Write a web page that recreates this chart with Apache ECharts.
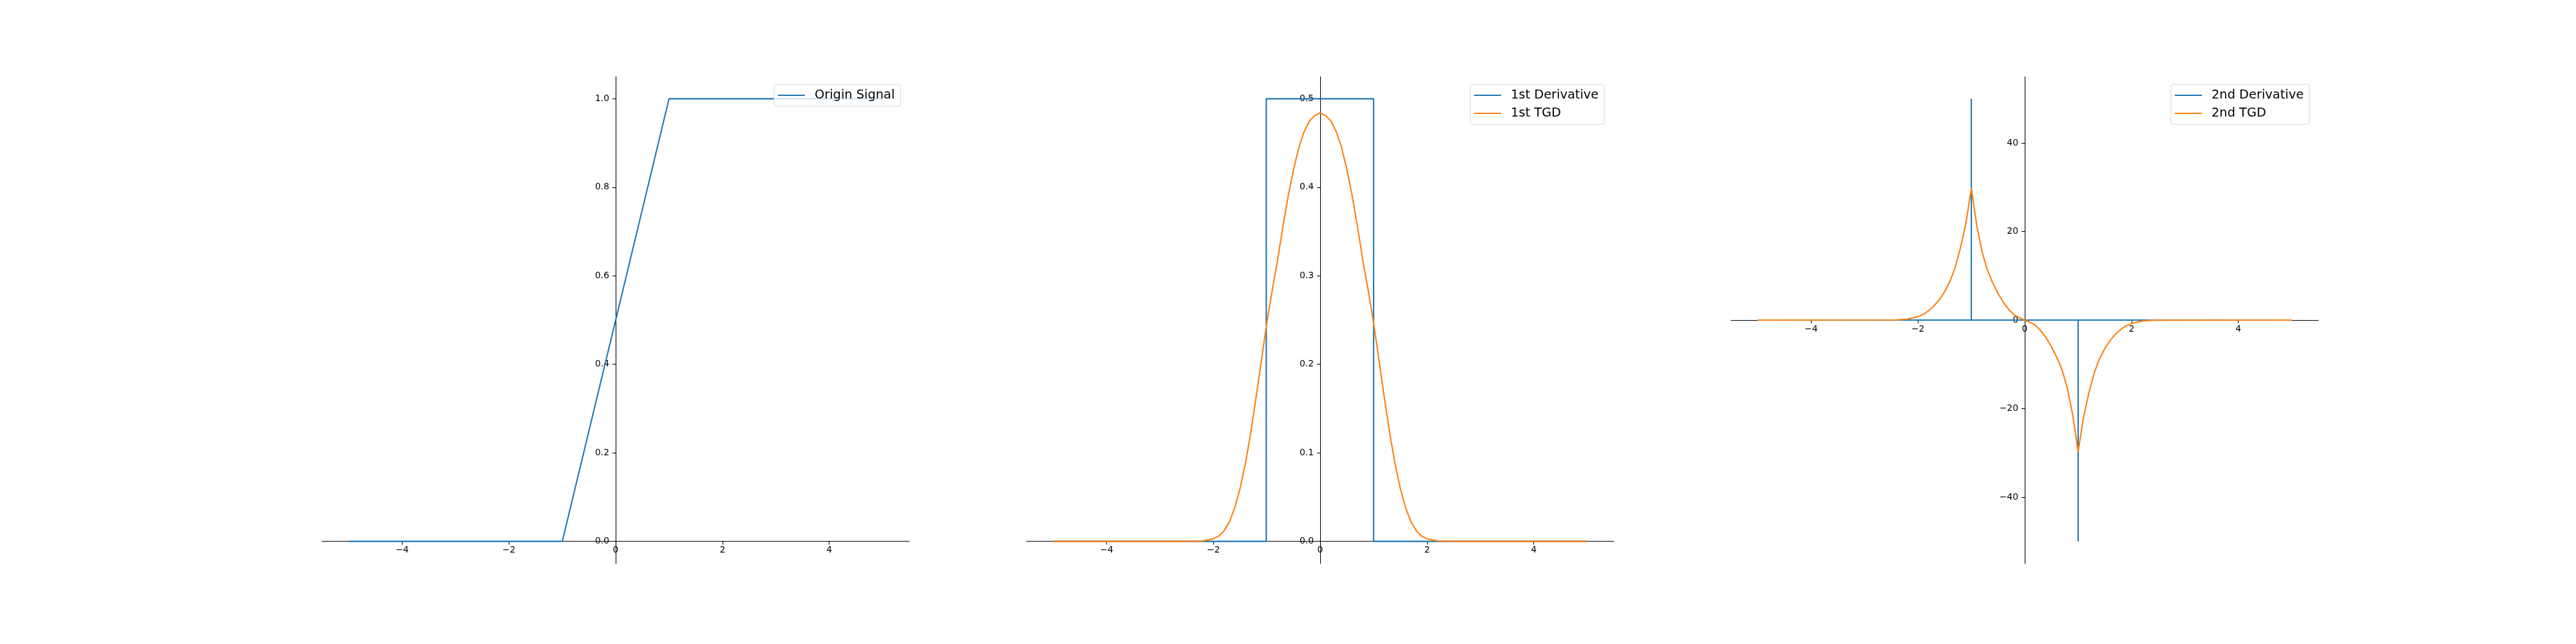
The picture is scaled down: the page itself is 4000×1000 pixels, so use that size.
<!DOCTYPE html>
<html>
<head>
<meta charset="utf-8">
<script src="https://cdn.jsdelivr.net/npm/echarts@6/dist/echarts.min.js"></script>
<style>
  html, body { margin: 0; padding: 0; background: #fff; }
  #chart { width: 4000px; height: 1000px; }
</style>
</head>
<body>
<div id="chart"></div>
<script>
// tick labels
const xTicks = [-4, -2, 0, 2, 4];
const yTicks1 = [0, 0.2, 0.4, 0.6, 0.8, 1.0];
const yTicks2 = [0, 0.1, 0.2, 0.3, 0.4, 0.5];
const yTicks3 = [-40, -20, 0, 20, 40];

// panel 1: origin signal
const signalX = [-5, -1, 1, 5];
const signalY = [0, 0, 1, 1];

// panel 2: 1st derivative + 1st TGD
const d1X = [-5, -1.01, -1.01, 1, 1, 5];
const d1Y = [0, 0, 0.5, 0.5, 0, 0];
const tgd1X = [-5, -2.4, -2.2, -2.0, -1.9, -1.8, -1.7, -1.6, -1.5, -1.4, -1.3, -1.2, -1.1, -1.0, -0.9, -0.8, -0.7, -0.6, -0.5, -0.4, -0.3, -0.2, -0.1, 0,
               0.1, 0.2, 0.3, 0.4, 0.5, 0.6, 0.7, 0.8, 0.9, 1.0, 1.1, 1.2, 1.3, 1.4, 1.5, 1.6, 1.7, 1.8, 1.9, 2.0, 2.2, 2.4, 5];
const tgd1Y = [0, 0, 0.0005, 0.003, 0.006, 0.012, 0.022, 0.038, 0.06, 0.088, 0.123, 0.163, 0.205, 0.247, 0.283, 0.317, 0.355, 0.39, 0.42, 0.445, 0.463, 0.475, 0.481, 0.484,
               0.481, 0.475, 0.463, 0.445, 0.42, 0.39, 0.355, 0.317, 0.283, 0.247, 0.205, 0.163, 0.123, 0.088, 0.06, 0.038, 0.022, 0.012, 0.006, 0.003, 0.0005, 0, 0];

// panel 3: 2nd derivative + 2nd TGD
const d2X = [-5, -1, -1, -1, 1, 1, 1, 5];
const d2Y = [0, 0, 50, 0, 0, -50, 0, 0];
const tgd2X = [-5, -2.4, -2.2, -2.0, -1.9, -1.8, -1.7, -1.6, -1.5, -1.4, -1.3, -1.2, -1.1, -1.0, -0.9, -0.8, -0.7, -0.6, -0.5, -0.4, -0.3, -0.2, -0.1, 0,
               0.1, 0.2, 0.3, 0.4, 0.5, 0.6, 0.7, 0.8, 0.9, 1.0, 1.1, 1.2, 1.3, 1.4, 1.5, 1.6, 1.7, 1.8, 1.9, 2.0, 2.2, 2.4, 5];
const tgd2Y = [0, 0.03, 0.2, 0.75, 1.3, 2.1, 3.2, 4.6, 6.4, 8.8, 12, 16.5, 22, 29.8, 21.5, 15.5, 11.3, 8.4, 6.0, 4.0, 2.4, 1.2, 0.5, 0,
               -0.5, -1.2, -2.4, -4.0, -6.0, -8.4, -11.3, -15.5, -21.5, -29.8, -22, -16.5, -12, -8.8, -6.4, -4.6, -3.2, -2.1, -1.3, -0.75, -0.2, -0.03, 0];

const BLUE = '#1f77b4';
const ORANGE = '#ff7f0e';
const FONT = 'DejaVu Sans';

function pairs(xs, ys) {
  return xs.map((x, i) => [x, ys[i]]);
}
function minus(s) {
  return String(s).replace('-', '\u2212');
}

const gridLefts = [500, 1594, 2688];
const gridTop = 119;
const gridWidth = 912;
const gridHeight = 756;

function xAxisFor(i) {
  return {
    type: 'value', gridIndex: i, min: -5.5, max: 5.5, position: 'bottom',
    splitLine: { show: false },
    axisLine: { onZero: false, lineStyle: { color: '#000', width: 1.1 } },
    axisTick: { show: true, length: 5, lineStyle: { color: '#000', width: 1.1 }, customValues: xTicks },
    axisLabel: { color: '#000', fontSize: 13.9, fontFamily: FONT, margin: 7, customValues: xTicks, formatter: v => minus(v) }
  };
}
function yAxisFor(i, min, max, ticks, fmt) {
  return {
    type: 'value', gridIndex: i, min: min, max: max, position: 'left',
    splitLine: { show: false },
    axisLine: { onZero: false, lineStyle: { color: '#000', width: 1.1 } },
    axisTick: { show: true, length: 5, lineStyle: { color: '#000', width: 1.1 }, customValues: ticks },
    axisLabel: { color: '#000', fontSize: 13.9, fontFamily: FONT, margin: 10, customValues: ticks, formatter: fmt }
  };
}
function lineSeries(name, i, data, color) {
  return {
    name: name, type: 'line', xAxisIndex: i, yAxisIndex: i,
    data: data, showSymbol: false, symbol: 'none',
    lineStyle: { color: color, width: 2.1 }, itemStyle: { color: color },
    animation: false
  };
}
function legendFor(names, left) {
  return {
    data: names, orient: 'vertical', left: left, top: 131,
    icon: 'rect',
    padding: [7, 9, 7, 6], itemGap: 8, itemWidth: 42, itemHeight: 2.1,
    borderColor: '#d6d6d6', borderWidth: 1, borderRadius: 4,
    backgroundColor: 'rgba(255,255,255,0.8)',
    textStyle: { color: '#000', fontSize: 19.4, fontFamily: FONT, lineHeight: 20, padding: [0, 0, 0, 10] }
  };
}

const chart = echarts.init(document.getElementById('chart'), null, { renderer: 'canvas' });
chart.setOption({
  backgroundColor: '#fff',
  animation: false,
  grid: gridLefts.map(l => ({ left: l, top: gridTop, width: gridWidth, height: gridHeight })),
  xAxis: [xAxisFor(0), xAxisFor(1), xAxisFor(2)],
  yAxis: [
    yAxisFor(0, -0.05, 1.05, yTicks1, v => v.toFixed(1)),
    yAxisFor(1, -0.025, 0.525, yTicks2, v => v.toFixed(1)),
    yAxisFor(2, -55, 55, yTicks3, v => minus(v))
  ],
  legend: [
    legendFor(['Origin Signal'], 1202),
    legendFor(['1st Derivative', '1st TGD'], 2283),
    legendFor(['2nd Derivative', '2nd TGD'], 3371)
  ],
  series: [
    lineSeries('Origin Signal', 0, pairs(signalX, signalY), BLUE),
    lineSeries('1st Derivative', 1, pairs(d1X, d1Y), BLUE),
    lineSeries('1st TGD', 1, pairs(tgd1X, tgd1Y), ORANGE),
    lineSeries('2nd Derivative', 2, pairs(d2X, d2Y), BLUE),
    lineSeries('2nd TGD', 2, pairs(tgd2X, tgd2Y), ORANGE)
  ]
});

// move the axes (line, ticks, labels) onto the origin, like centred spines
const xOffsets = [], yOffsets = [];
for (let i = 0; i < 3; i++) {
  const origin = chart.convertToPixel({ gridIndex: i }, [0, 0]);
  yOffsets.push(-(origin[0] - gridLefts[i]));
  xOffsets.push(-((gridTop + gridHeight) - origin[1]));
}
chart.setOption({
  xAxis: xOffsets.map(o => ({ offset: o })),
  yAxis: yOffsets.map(o => ({ offset: o }))
});
</script>
</body>
</html>
